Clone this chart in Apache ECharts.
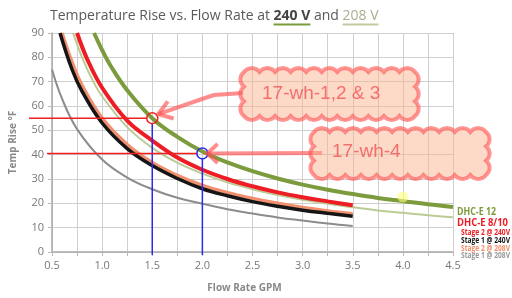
<!DOCTYPE html>
<html>
<head>
<meta charset="utf-8">
<script src="https://cdn.jsdelivr.net/npm/echarts@6/dist/echarts.min.js"></script>
<style>
  html, body { margin: 0; padding: 0; background: #fff; }
  #chart { width: 512px; height: 298px; }
</style>
</head>
<body>
<div id="chart"></div>
<script>
// 曲线数据 [流量 GPM, 温升 °F]
var dhc12At240 = [[0.92,90],[1.0,83],[1.1,75.5],[1.25,66.5],[1.5,55],[1.75,47.3],[2.0,41.3],[2.25,36.8],[2.5,33.2],[2.75,30.2],[3.0,27.7],[3.25,25.6],[3.5,23.8],[3.75,22.2],[4.0,20.9],[4.25,19.6],[4.5,18.5]];
var dhc12At208 = [[0.71,90],[0.8,80],[0.9,71],[1.0,64],[1.25,51.3],[1.5,42.8],[1.75,36.7],[2.0,32.2],[2.25,28.6],[2.5,25.8],[2.75,23.4],[3.0,21.5],[3.25,19.8],[3.5,18.4],[3.75,17.1],[4.0,16.1],[4.25,15.1],[4.5,14.3]];
var stage2At240 = [[0.75,90],[0.85,79.4],[1.0,67.5],[1.25,54],[1.5,45.8],[1.75,38.8],[2.0,33.8],[2.25,30],[2.5,27],[2.75,24.5],[3.0,22.5],[3.25,20.8],[3.5,19.2]];
var stage2At208 = [[0.6,90],[0.7,78],[0.8,68.5],[1.0,55],[1.25,44.2],[1.5,36.8],[1.75,31.5],[2.0,27.4],[2.25,24.4],[2.5,22],[2.75,20],[3.0,18.3],[3.25,16.9],[3.5,15.7]];
var stage1At240 = [[0.58,90],[0.7,75],[0.8,66],[1.0,53],[1.25,42.5],[1.5,35.5],[1.75,30.2],[2.0,26],[2.25,23.1],[2.5,20.7],[2.75,18.8],[3.0,17.2],[3.25,15.9],[3.5,14.7]];
var stage1At208 = [[0.5,75],[0.6,63],[0.75,50.5],[1.0,38],[1.25,30.6],[1.5,25.8],[1.75,22.3],[2.0,19.8],[2.25,17.6],[2.5,15.8],[2.75,14.2],[3.0,12.9],[3.25,11.7],[3.5,10.7]];

// 标注点
var markPoints = [[1.5, 55], [2.0, 40.5]];
var markLabels = ['17-wh-1,2 & 3', '17-wh-4'];
var yellowDot = [[4.0, 22.6]];

var legendTexts = ['DHC-E 12', 'DHC-E 8/10', 'Stage 2 @ 240V', 'Stage 1 @ 240V', 'Stage 2 @ 208V', 'Stage 1 @ 208V'];

var FONT = 'Open Sans';
var lineLeft = [29, 47];
var circleColor = ['#f02020', '#2a2ae8'];

var chart = echarts.init(document.getElementById('chart'));

function lineSeries(name, data, color, width, z) {
    return {
        name: name,
        type: 'line',
        data: data,
        smooth: 0.4,
        symbol: 'none',
        z: z,
        lineStyle: { color: color, width: width }
    };
}

var option = {
    animation: false,
    grid: { left: 50, right: 59, top: 33, bottom: 39 },
    xAxis: {
        type: 'value',
        min: 0.5,
        max: 4.5,
        interval: 0.25,
        name: 'Flow Rate GPM',
        nameLocation: 'middle',
        nameGap: 31,
        nameTextStyle: { color: '#888', fontSize: 10, fontWeight: 'bold', fontFamily: FONT, padding: [0, 16, 0, 0] },
        axisLine: { lineStyle: { color: '#aaa', width: 1.5 } },
        axisTick: { length: 4, lineStyle: { color: '#bbb' } },
        axisLabel: {
            color: '#777', fontSize: 11, fontFamily: FONT, margin: 8,
            formatter: function (v) {
                return Math.abs(v * 2 - Math.round(v * 2)) < 1e-6 ? v.toFixed(1) : '';
            }
        },
        splitLine: { lineStyle: { color: '#cfcfcf', width: 1 } }
    },
    yAxis: {
        type: 'value',
        min: 0,
        max: 90,
        interval: 10,
        name: 'Temp Rise °F',
        nameLocation: 'middle',
        nameGap: 34,
        nameTextStyle: { color: '#888', fontSize: 10, fontWeight: 'bold', fontFamily: FONT },
        axisLine: { show: true, lineStyle: { color: '#aaa', width: 1.5 } },
        axisTick: { show: true, length: 4, lineStyle: { color: '#bbb' } },
        axisLabel: { color: '#777', fontSize: 11, fontFamily: FONT, margin: 8 },
        splitLine: { lineStyle: { color: '#cfcfcf', width: 1 } }
    },
    series: [
        lineSeries('DHC-E 12 208V', dhc12At208, '#bccb94', 2, 2),
        lineSeries('DHC-E 12 240V', dhc12At240, '#7b9b3d', 4, 3),
        lineSeries('Stage 1 @ 208V', stage1At208, '#8c8c8c', 2, 2),
        lineSeries('Stage 2 @ 208V', stage2At208, '#f0906e', 3.5, 2),
        lineSeries('Stage 1 @ 240V', stage1At240, '#151515', 3.5, 3),
        lineSeries('Stage 2 @ 240V', stage2At240, '#ee1c24', 4, 4),
        {
            type: 'scatter',
            data: yellowDot,
            symbolSize: 11,
            z: 5,
            itemStyle: { color: 'rgba(255,255,120,0.75)' }
        },
        {
            type: 'custom',
            data: markPoints,
            z: 6,
            clip: false,
            renderItem: function (params, api) {
                var i = params.dataIndex;
                var p = api.coord([api.value(0), api.value(1)]);
                var y0 = api.coord([api.value(0), 0])[1];
                return {
                    type: 'group',
                    children: [
                        { type: 'line', shape: { x1: lineLeft[i], y1: p[1], x2: p[0] - 5, y2: p[1] }, style: { stroke: '#f02020', lineWidth: 1.5 } },
                        { type: 'line', shape: { x1: p[0], y1: p[1] + 5, x2: p[0], y2: y0 + 3 }, style: { stroke: '#2a2ae8', lineWidth: 1.5 } },
                        { type: 'circle', shape: { cx: p[0], cy: p[1], r: 5.5 }, style: { fill: 'none', stroke: circleColor[i], lineWidth: 1.5 } }
                    ]
                };
            }
        }
    ]
};
chart.setOption(option);

// 云朵轮廓（圆弧采样成多边形）
function bump(pts, P, Q, n, k) {
    var a = Math.hypot(Q[0] - P[0], Q[1] - P[1]) / 2;
    var r = a * k;
    var d = Math.sqrt(r * r - a * a);
    var cx = (P[0] + Q[0]) / 2 - n[0] * d, cy = (P[1] + Q[1]) / 2 - n[1] * d;
    var a0 = Math.atan2(P[1] - cy, P[0] - cx), a1 = Math.atan2(Q[1] - cy, Q[0] - cx);
    var da = a1 - a0;
    while (da > Math.PI) da -= 2 * Math.PI;
    while (da <= -Math.PI) da += 2 * Math.PI;
    for (var s = 1; s <= 8; s++) {
        var t = a0 + da * s / 8;
        pts.push([cx + r * Math.cos(t), cy + r * Math.sin(t)]);
    }
}
function cloudPoints(x, y, w, h, step) {
    var nx = Math.max(1, Math.round(w / step)), ny = Math.max(1, Math.round(h / step));
    var sx = w / nx, sy = h / ny, k = 1.25, i;
    var pts = [[x, y]];
    for (i = 0; i < nx; i++) bump(pts, [x + i * sx, y], [x + (i + 1) * sx, y], [0, -1], k);
    for (i = 0; i < ny; i++) bump(pts, [x + w, y + i * sy], [x + w, y + (i + 1) * sy], [1, 0], k);
    for (i = 0; i < nx; i++) bump(pts, [x + w - i * sx, y + h], [x + w - (i + 1) * sx, y + h], [0, 1], k);
    for (i = 0; i < ny; i++) bump(pts, [x, y + h - i * sy], [x, y + h - (i + 1) * sy], [-1, 0], k);
    return pts;
}

function arrowHead(tip, from, len, ang) {
    var dx = from[0] - tip[0], dy = from[1] - tip[1];
    var n = Math.sqrt(dx * dx + dy * dy);
    dx /= n; dy /= n;
    var pts = [];
    [ang, -ang].forEach(function (a) {
        var c = Math.cos(a), s = Math.sin(a);
        pts.push([tip[0] + len * (dx * c - dy * s), tip[1] + len * (dx * s + dy * c)]);
    });
    return pts;
}

var p1 = chart.convertToPixel({ seriesIndex: 0 }, markPoints[0]);
var p2 = chart.convertToPixel({ seriesIndex: 0 }, markPoints[1]);
var arrowStyle = { stroke: 'rgba(255,80,80,0.65)', lineWidth: 4, fill: null };
var tip1 = [p1[0] + 6, p1[1] - 4];
var tip2 = [p2[0] + 5, p2[1]];
var h1 = arrowHead(tip1, [200, 100], 16, 0.6);
var h2 = arrowHead(tip2, [320, 153], 14, 0.75);
var cloudStyle = { fill: 'rgba(252,180,145,0.5)', stroke: 'rgba(255,80,80,0.6)', lineWidth: 4 };
var cloudText = { fill: 'rgba(240,85,85,0.8)', fontSize: 19, fontFamily: 'Liberation Sans' };

// 标题
var ctx = document.createElement('canvas').getContext('2d');
var titleSize = 14;
var titleParts = [
    { t: 'Temperature Rise vs. Flow Rate at ', w: 'normal', c: '#5a5a5a' },
    { t: '240 V', w: 'bold', c: '#444', u: '#7b9b3d' },
    { t: ' and ', w: 'normal', c: '#5a5a5a' },
    { t: '208 V', w: 'normal', c: '#a8b08e', u: '#c2cc9f' }
];
var titleEls = [];
var tx = 50;
titleParts.forEach(function (p) {
    ctx.font = p.w + ' ' + titleSize + 'px "' + FONT + '"';
    var w = ctx.measureText(p.t).width;
    titleEls.push({ type: 'text', x: tx, y: 16, style: { text: p.t, fill: p.c, fontSize: titleSize, fontWeight: p.w, fontFamily: FONT, textVerticalAlign: 'middle' } });
    if (p.u) titleEls.push({ type: 'line', shape: { x1: tx, y1: 24.5, x2: tx + w, y2: 24.5 }, style: { stroke: p.u, lineWidth: 2 } });
    tx += w;
});

// 右侧图例文字，横向压缩到参考宽度
var legendColors = ['#7b9b3d', '#ee1c24', '#ee1c24', '#151515', '#f0906e', '#999'];
var legendY = [211.5, 222.5, 232.5, 240.5, 248.5, 256];
var legendW = [39, 51, 49, 49, 49, 49];
var legendSize = [11, 11, 8, 8, 8, 8];
var legendEls = legendTexts.map(function (t, i) {
    ctx.font = 'bold ' + legendSize[i] + 'px "' + FONT + '"';
    var sx = Math.min(1, legendW[i] / ctx.measureText(t).width);
    return {
        type: 'text', x: i < 2 ? 457 : 461, y: legendY[i], scaleX: sx,
        style: { text: t, fill: legendColors[i], fontSize: legendSize[i], fontWeight: 'bold', fontFamily: FONT, textVerticalAlign: 'middle' }
    };
});

chart.setOption({
    graphic: titleEls.concat(legendEls).concat([
        { type: 'polyline', z: 100, shape: { points: [[243, 93], [214, 95], [202, 99], tip1] }, style: arrowStyle },
        { type: 'polyline', z: 100, shape: { points: [h1[0], tip1, h1[1]] }, style: arrowStyle },
        { type: 'polyline', z: 100, shape: { points: [[322, 153], tip2] }, style: arrowStyle },
        { type: 'polyline', z: 100, shape: { points: [h2[0], tip2, h2[1]] }, style: arrowStyle },
        { type: 'polygon', z: 101, shape: { points: cloudPoints(244, 72, 171, 44, 15) }, style: cloudStyle },
        { type: 'text', z: 102, x: 262, y: 94, style: Object.assign({ text: markLabels[0], textVerticalAlign: 'middle' }, cloudText) },
        { type: 'polygon', z: 101, shape: { points: cloudPoints(314, 132, 172, 43, 15) }, style: cloudStyle },
        { type: 'text', z: 102, x: 332, y: 152, style: Object.assign({ text: markLabels[1], textVerticalAlign: 'middle' }, cloudText) }
    ])
});
</script>
</body>
</html>
